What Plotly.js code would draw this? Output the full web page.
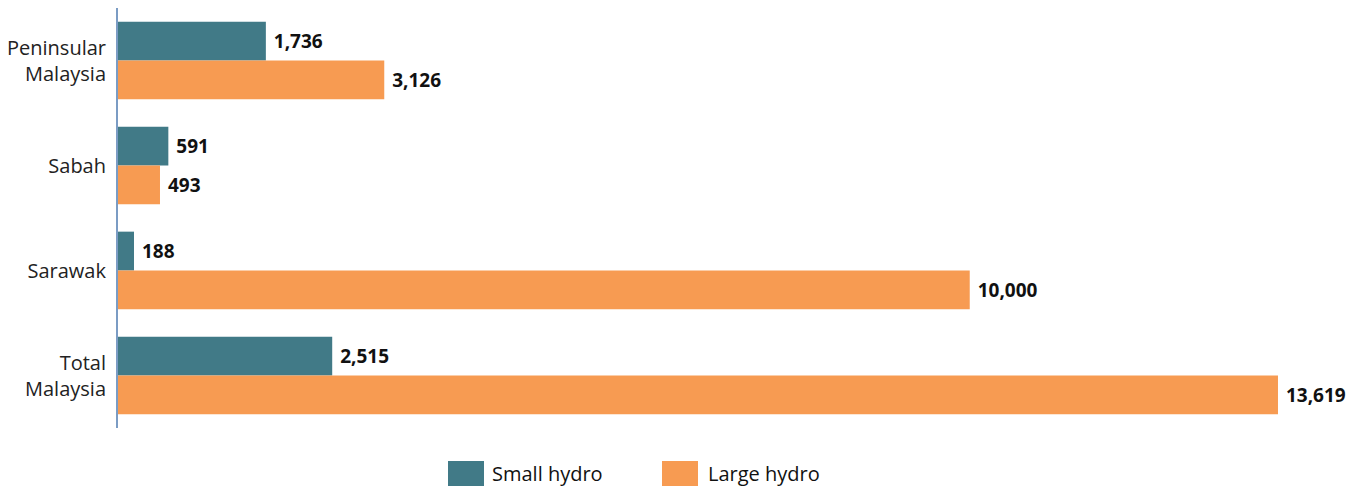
<!DOCTYPE html>
<html>
<head>
<meta charset="utf-8">
<script src="https://cdn.plot.ly/plotly-3.0.1.min.js"></script>
<style>html,body{margin:0;padding:0;background:#fff;}#chart{width:1371px;height:486px;}</style>
</head>
<body>
<div id="chart"></div>
<script>
const categories = ["Peninsular<br>Malaysia", "Sabah", "Sarawak", "Total<br>Malaysia"];
const smallHydro = [1736, 591, 188, 2515];
const largeHydro = [3126, 493, 10000, 13619];
const seriesNames = ["Small hydro", "Large hydro"];
const colors = ["#417a87", "#f79b52"];

const FONT = "'Open Sans', Lato, sans-serif";
const labelFont = {family: FONT, size: 19, color: "#111", weight: 700};

const traces = [smallHydro, largeHydro].map((vals, i) => ({
  type: "bar",
  orientation: "h",
  name: seriesNames[i],
  y: categories,
  x: vals,
  marker: {color: colors[i]},
  text: vals.map(v => "\u00a0" + v.toLocaleString("en-US")),
  textposition: "outside",
  textfont: labelFont,
  cliponaxis: false,
  hoverinfo: "skip"
}));

const W = 1253, H = 420, L = 118, T = 8;
const px = x => (x - L) / W;
const py = y => (T + H - y) / H;

const layout = {
  width: 1371, height: 486,
  margin: {l: L, r: 0, t: T, b: 486 - T - H},
  paper_bgcolor: "#fff", plot_bgcolor: "#fff",
  barmode: "group",
  bargap: 0.26,
  bargroupgap: 0,
  showlegend: false,
  font: {family: FONT, size: 20, color: "#222"},
  xaxis: {range: [0, 14711], showgrid: false, zeroline: false, showticklabels: false, showline: false},
  yaxis: {autorange: "reversed", showline: true, linecolor: "#7b9cc4", linewidth: 2, ticks: "", ticklabelstandoff: 6, tickfont: {family: FONT, size: 20, color: "#222"}, showgrid: false, zeroline: false},
  shapes: [
    {type: "rect", xref: "paper", yref: "paper", x0: px(448), x1: px(484), y0: py(486), y1: py(461), fillcolor: colors[0], line: {width: 0}},
    {type: "rect", xref: "paper", yref: "paper", x0: px(662), x1: px(698), y0: py(486), y1: py(461), fillcolor: colors[1], line: {width: 0}}
  ],
  annotations: [
    {xref: "paper", yref: "paper", x: px(490), y: py(473), xanchor: "left", yanchor: "middle", text: seriesNames[0], showarrow: false, font: {family: FONT, size: 20, color: "#111"}},
    {xref: "paper", yref: "paper", x: px(706), y: py(473), xanchor: "left", yanchor: "middle", text: seriesNames[1], showarrow: false, font: {family: FONT, size: 20, color: "#111"}}
  ]
};

Plotly.newPlot("chart", traces, layout, {displayModeBar: false, staticPlot: true});
</script>
</body>
</html>
